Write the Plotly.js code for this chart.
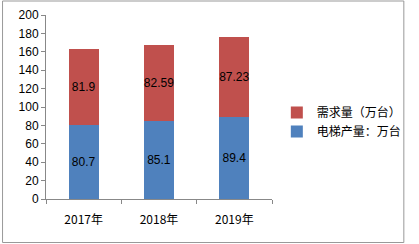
<!DOCTYPE html>
<html><head><meta charset="utf-8">
<script src="https://cdn.plot.ly/plotly-3.0.1.min.js"></script>
<style>body{margin:0;padding:0;background:#fff}#c{width:419px;height:244px}</style>
</head><body><div id="c"></div>
<script>
const categories = ["2017年", "2018年", "2019年"];
const production = [80.7, 85.1, 89.4];
const demand = [81.9, 82.59, 87.23];
const productionLabels = ["80.7", "85.1", "89.4"];
const demandLabels = ["81.9", "82.59", "87.23"];
const yTicks = [0, 20, 40, 60, 80, 100, 120, 140, 160, 180, 200];

const font = "Liberation Sans, Noto Sans CJK SC, sans-serif";
const traces = [
  {type: "bar", name: "电梯产量：万台", x: categories, y: production, text: productionLabels,
   textposition: "inside", insidetextanchor: "middle", constraintext: "none", textangle: 0,
   textfont: {color: "#000", size: 12, family: font},
   marker: {color: "#4F81BD"}, hoverinfo: "none"},
  {type: "bar", name: "需求量（万台）", x: categories, y: demand, text: demandLabels,
   textposition: "inside", insidetextanchor: "middle", constraintext: "none", textangle: 0,
   textfont: {color: "#000", size: 12, family: font},
   marker: {color: "#C0504D"}, hoverinfo: "none"}
];
const L = 46, R = 139, T = 15, B = 45, W = 419, H = 244;
const pw = W - L - R, ph = H - T - B;
const layout = {
  width: W, height: H,
  margin: {l: L, r: R, t: T, b: B, pad: 0},
  barmode: "stack", bargap: 0.6,
  paper_bgcolor: "#fff", plot_bgcolor: "#fff",
  font: {family: font, size: 11, color: "#222"},
  showlegend: true,
  legend: {x: (285 - L) / pw, xanchor: "left", y: (199 - 98) / ph, yanchor: "top",
           traceorder: "reversed", font: {size: 12, family: "Noto Sans CJK SC, sans-serif", color: "#000"},
           bgcolor: "rgba(0,0,0,0)", itemwidth: 30},
  xaxis: {type: "category", showline: true, linecolor: "#888", linewidth: 1,
          ticks: "outside", tickson: "boundaries", ticklen: 4, tickcolor: "#888",
          ticklabelstandoff: 10,
          showgrid: false, tickfont: {size: 12, family: "Noto Sans CJK SC, sans-serif", color: "#000"},
          fixedrange: true},
  yaxis: {range: [0, 200], tickvals: yTicks, showline: true, linecolor: "#888", linewidth: 1,
          ticks: "outside", ticklen: 4, tickcolor: "#888", showgrid: false, zeroline: false,
          tickfont: {size: 12, color: "#000"}, fixedrange: true},
  shapes: [{type: "rect", xref: "paper", yref: "paper",
            x0: (1 - L) / pw, x1: (416.5 - L) / pw, y0: (H - 242.5 - B) / ph, y1: (H - 1 - B) / ph,
            line: {color: "#999", width: 1}, layer: "below"}]
};
Plotly.newPlot("c", traces, layout, {staticPlot: true});
</script></body></html>
